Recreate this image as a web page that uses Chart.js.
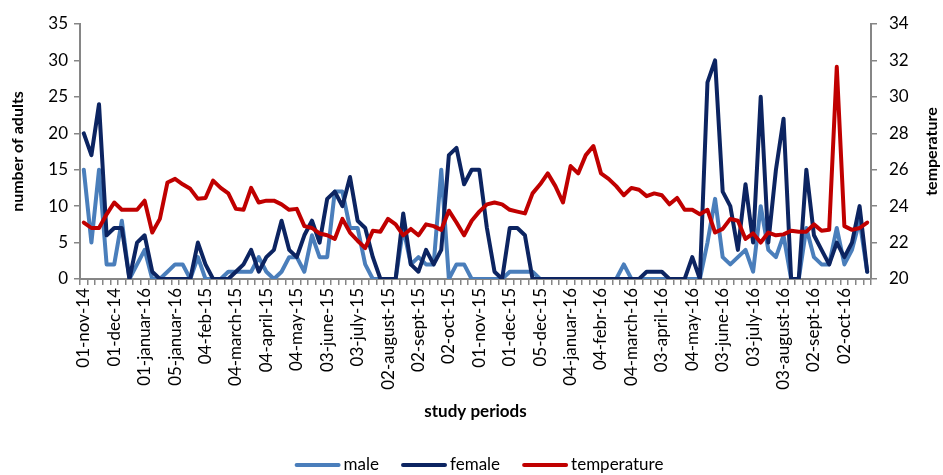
<!DOCTYPE html>
<html>
<head>
<meta charset="utf-8">
<script src="https://cdn.jsdelivr.net/npm/chart.js@4.4.1/dist/chart.umd.min.js"></script>
<style>
  html, body { margin: 0; padding: 0; background: #fff; }
  #wrap { position: relative; width: 943px; height: 475px; }
</style>
</head>
<body>
<div id="wrap"><canvas id="chart"></canvas></div>
<script>
// tick labels, one every 4 weekly samples
const tickLabels = ['01-nov-14', '01-dec-14', '01-januar-16', '05-januar-16', '04-feb-15', '04-march-15',
    '04-april-15', '04-may-15', '03-june-15', '03-july-15', '02-august-15', '02-sept-15', '02-oct-15',
    '01-nov-15', '01-dec-15', '05-dec-15', '04-januar-16', '04-febr-16', '04-march-16', '03-april-16',
    '04-may-16', '03-june-16', '03-july-16', '03-august-16', '02-sept-16', '02-oct-16'];

const male = [15, 5, 15, 2, 2, 8, 0, 2, 4, 0, 0, 1, 2, 2, 0, 3, 0, 0, 0, 1, 1,
    1, 1, 3, 1, 0, 1, 3, 3, 1, 6, 3, 3, 12, 12, 7, 7, 2, 0, 0, 0, 0,
    7, 2, 3, 2, 2, 15, 0, 2, 2, 0, 0, 0, 0, 0, 1, 1, 1, 1, 0, 0, 0,
    0, 0, 0, 0, 0, 0, 0, 0, 2, 0, 0, 0, 0, 0, 0, 0, 0, 0, 0, 5, 11,
    3, 2, 3, 4, 1, 10, 4, 3, 6, 0, 0, 7, 3, 2, 2, 7, 2, 4, 8, 1];

const female = [20, 17, 24, 6, 7, 7, 0, 5, 6, 1, 0, 0, 0, 0, 0, 5, 2, 0, 0, 0, 1,
    2, 4, 1, 3, 4, 8, 4, 3, 6, 8, 5, 11, 12, 10, 14, 8, 7, 3, 0, 0, 0,
    9, 2, 1, 4, 2, 4, 17, 18, 13, 15, 15, 7, 1, 0, 7, 7, 6, 0, 0, 0, 0,
    0, 0, 0, 0, 0, 0, 0, 0, 0, 0, 0, 1, 1, 1, 0, 0, 0, 3, 0, 27, 30,
    12, 10, 4, 13, 5, 25, 5, 15, 22, 0, 0, 15, 6, 4, 2, 5, 3, 5, 10, 1];

const temperature = [23.1, 22.8, 22.8, 23.55, 24.2, 23.8, 23.8, 23.8, 24.3, 22.55, 23.3, 25.3, 25.5, 25.2,
    24.95, 24.4, 24.45, 25.4, 25.0, 24.7, 23.85,
    23.8, 25.0, 24.2, 24.3, 24.3, 24.1, 23.8, 23.85, 22.9, 22.8, 22.5, 22.4, 22.2, 23.3, 22.55, 22.1,
    21.7, 22.65, 22.6, 23.3, 23.0,
    22.4, 22.75, 22.4, 23.0, 22.9, 22.7, 23.75, 23.1, 22.4, 23.2, 23.7, 24.1, 24.2, 24.1, 23.8, 23.7,
    23.6, 24.7, 25.2, 25.8, 25.1,
    24.2, 26.2, 25.8, 26.8, 27.3, 25.8, 25.5, 25.1, 24.6, 25.0, 24.9, 24.55, 24.7, 24.6, 24.1, 24.45,
    23.8, 23.8, 23.55, 23.8, 22.55,
    22.75, 23.3, 23.2, 22.2, 22.5, 22.0, 22.55, 22.4, 22.45, 22.65, 22.6, 22.6, 23.0, 22.65, 22.7,
    31.65, 22.9, 22.7, 22.8, 23.1];

const categories = male.map((_, i) => (i % 4 === 0 ? tickLabels[i / 4] : ''));

const FONT = 'Lato, "Open Sans", sans-serif';
const AXIS_GREY = '#868686';

// legend drawn as short lines under the x title, right axis title reads bottom-to-top
const extras = {
    id: 'extras',
    afterDraw(chart) {
        const ctx = chart.ctx;
        const area = chart.chartArea;
        ctx.save();
        ctx.fillStyle = '#000';
        ctx.font = 'bold 16px ' + FONT;
        ctx.textAlign = 'center';
        ctx.textBaseline = 'middle';
        ctx.translate(932, (area.top + area.bottom) / 2);
        ctx.rotate(-Math.PI / 2);
        ctx.fillText('temperature', 0, 0);
        ctx.restore();

        ctx.save();
        ctx.font = '17px ' + FONT;
        ctx.textBaseline = 'middle';
        const lineLen = 46, gap = 3, spacing = 22, y = 465;
        const items = chart.data.datasets.map(ds => ({ text: ds.label, color: ds.borderColor, w: ctx.measureText(ds.label).width }));
        const total = items.reduce((s, it) => s + lineLen + gap + it.w, 0) + spacing * (items.length - 1);
        let x = 479 - total / 2;
        items.forEach(it => {
            ctx.strokeStyle = it.color;
            ctx.lineWidth = 4;
            ctx.lineCap = 'round';
            ctx.beginPath();
            ctx.moveTo(x + 2, y);
            ctx.lineTo(x + lineLen - 2, y);
            ctx.stroke();
            ctx.fillStyle = '#000';
            ctx.fillText(it.text, x + lineLen + gap, y);
            x += lineLen + gap + it.w + spacing;
        });
        ctx.restore();
    }
};

new Chart(document.getElementById('chart'), {
    type: 'line',
    data: {
        labels: categories,
        datasets: [
            { label: 'male', data: male, borderColor: '#4A7EBB', backgroundColor: '#4A7EBB', yAxisID: 'y', order: 2 },
            { label: 'female', data: female, borderColor: '#0C2461', backgroundColor: '#0C2461', yAxisID: 'y', order: 1 },
            { label: 'temperature', data: temperature, borderColor: '#C00000', backgroundColor: '#C00000', yAxisID: 'y1', order: 0 }
        ]
    },
    options: {
        responsive: true,
        maintainAspectRatio: false,
        animation: false,
        devicePixelRatio: 1,
        elements: {
            line: { borderWidth: 4, tension: 0, borderJoinStyle: 'round', borderCapStyle: 'round' },
            point: { radius: 0, hoverRadius: 0 }
        },
        layout: { padding: { top: 24, bottom: 53, left: 0, right: 0 } },
        plugins: {
            legend: { display: false },
            tooltip: { enabled: false }
        },
        scales: {
            x: {
                type: 'category',
                offset: true,
                afterFit: s => { s.height = 143; },
                grid: { offset: true, drawOnChartArea: false, tickLength: 6, color: AXIS_GREY, lineWidth: 1.5 },
                border: { display: true, color: AXIS_GREY, width: 2 },
                ticks: { autoSkip: false, maxRotation: 90, minRotation: 90, padding: 3, color: '#000', font: { family: FONT, size: 17 } },
                title: { display: true, text: 'study periods', color: '#000', padding: 0, font: { family: FONT, size: 17, weight: 'bold' } }
            },
            y: {
                position: 'left',
                min: 0,
                max: 35,
                afterFit: s => { s.width = 80; },
                grid: { drawOnChartArea: false, tickLength: 6, color: AXIS_GREY, lineWidth: 1.5 },
                border: { display: true, color: AXIS_GREY, width: 2 },
                ticks: { stepSize: 5, padding: 6, color: '#000', font: { family: FONT, size: 17 } },
                title: { display: true, text: 'number of adults', color: '#000', padding: { top: 8, bottom: 0 }, font: { family: FONT, size: 16, weight: 'bold' } }
            },
            y1: {
                position: 'right',
                min: 20,
                max: 34,
                afterFit: s => { s.width = 72; },
                grid: { drawOnChartArea: false, tickLength: 6, color: AXIS_GREY, lineWidth: 1.5 },
                border: { display: true, color: AXIS_GREY, width: 2 },
                ticks: { stepSize: 2, padding: 12, color: '#000', font: { family: FONT, size: 17 } }
            }
        }
    },
    plugins: [extras]
});
</script>
</body>
</html>
